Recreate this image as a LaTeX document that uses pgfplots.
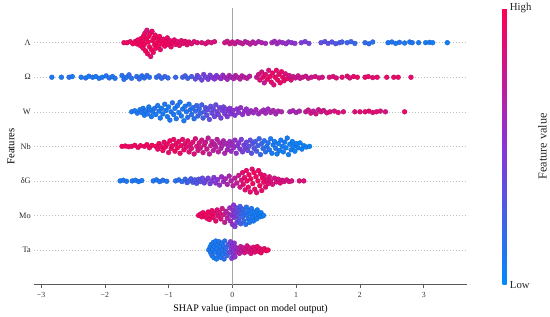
\documentclass[border=0pt]{standalone}
\usepackage{pgfplots}
\pgfplotsset{compat=1.18}
\usepackage{pgfplotstable}
\usepackage{fontspec}
\setmainfont{Liberation Serif}
\pgfplotsset{colormap={shap}{rgb255=(0,138,250) rgb255=(138,52,215) rgb255=(255,0,82)}}

\pgfplotstableread{
x d c
-1.70 0.00 0.90
-1.65 0.00 0.95
-1.60 0.03 0.92
-1.56 -0.03 0.95
-1.52 0.04 0.95
-1.49 -0.04 0.95
-1.48 0.08 0.90
-1.46 0.00 0.95
-1.44 -0.09 0.95
-1.43 0.12 0.95
-1.41 0.03 0.95
-1.40 -0.16 0.92
-1.39 0.20 0.95
-1.38 -0.05 0.95
-1.37 0.28 0.90
-1.36 -0.24 0.95
-1.35 0.10 0.95
-1.34 0.36 0.85
-1.33 -0.32 0.95
-1.32 0.02 0.95
-1.31 0.18 0.95
-1.30 -0.12 0.95
-1.29 0.26 0.95
-1.28 -0.40 0.85
-1.27 -0.20 0.95
-1.26 0.33 0.90
-1.25 0.06 0.95
-1.24 -0.28 0.95
-1.23 0.14 0.95
-1.22 -0.06 0.95
-1.21 0.22 0.95
-1.20 -0.16 0.95
-1.18 0.00 0.95
-1.17 0.10 0.92
-1.16 -0.10 0.95
-1.14 0.18 0.95
-1.13 -0.20 0.90
-1.12 0.04 0.95
-1.10 -0.04 0.95
-1.08 0.10 0.92
-1.06 -0.10 0.95
-1.04 0.02 0.95
-1.02 0.14 0.90
-1.00 -0.06 0.95
-0.98 0.06 0.92
-0.96 -0.12 0.90
-0.94 0.00 0.95
-0.91 0.08 0.90
-0.89 -0.05 0.92
-0.86 0.03 0.90
-0.83 -0.08 0.90
-0.80 0.06 0.88
-0.77 -0.02 0.90
-0.74 0.04 0.88
-0.71 -0.06 0.88
-0.68 0.02 0.90
-0.64 -0.03 0.88
-0.60 0.03 0.85
-0.55 0.00 0.88
-0.48 0.00 0.85
-0.42 -0.03 0.85
-0.38 0.02 0.85
-0.33 0.00 0.82
-0.28 0.03 0.85
-0.12 0.00 0.80
-0.08 0.04 0.78
-0.04 -0.03 0.80
0.00 0.02 0.78
0.04 -0.03 0.75
0.08 0.03 0.75
0.12 0.00 0.72
0.16 -0.03 0.75
0.20 0.03 0.70
0.24 0.00 0.72
0.28 -0.04 0.70
0.32 0.02 0.68
0.36 -0.02 0.70
0.41 0.03 0.65
0.46 0.00 0.65
0.52 -0.02 0.62
0.62 0.00 0.62
0.66 0.04 0.60
0.70 -0.03 0.58
0.74 0.02 0.60
0.79 0.00 0.55
0.84 -0.03 0.55
0.88 0.02 0.55
0.93 0.00 0.50
0.98 -0.02 0.52
1.08 0.00 0.45
1.14 0.03 0.45
1.20 -0.02 0.42
1.39 0.00 0.35
1.45 0.03 0.32
1.50 -0.02 0.35
1.56 0.02 0.30
1.62 -0.03 0.30
1.68 0.00 0.28
1.72 0.02 0.25
1.80 0.00 0.22
1.86 0.03 0.22
1.92 -0.02 0.20
2.08 0.00 0.18
2.14 -0.03 0.15
2.20 0.02 0.15
2.44 0.00 0.12
2.50 0.02 0.12
2.56 -0.02 0.10
2.62 0.01 0.12
2.70 -0.01 0.10
2.78 0.02 0.10
2.82 0.00 0.12
2.92 0.00 0.10
3.03 0.00 0.08
3.09 0.01 0.10
3.14 0.00 0.08
3.37 0.00 0.05
}\tabL

\pgfplotstableread{
x d c
-2.83 0.00 0.10
-2.68 0.00 0.10
-2.56 0.00 0.12
-2.51 0.02 0.10
-2.37 0.00 0.10
-2.30 -0.02 0.12
-2.25 0.03 0.10
-2.19 0.00 0.12
-2.14 0.02 0.10
-2.09 -0.03 0.12
-2.04 0.00 0.10
-1.98 0.04 0.12
-1.93 -0.02 0.15
-1.88 0.02 0.12
-1.84 -0.03 0.12
-1.73 0.05 0.15
-1.70 -0.06 0.15
-1.66 0.00 0.12
-1.62 0.07 0.18
-1.58 -0.03 0.15
-1.50 0.02 0.15
-1.46 -0.05 0.18
-1.42 0.04 0.15
-1.38 -0.02 0.15
-1.34 0.05 0.18
-1.30 0.00 0.15
-1.19 0.00 0.18
-1.15 0.04 0.20
-1.11 -0.03 0.18
-1.06 0.02 0.20
-1.01 -0.02 0.18
-0.89 0.00 0.20
-0.78 0.00 0.22
-0.74 0.04 0.25
-0.70 -0.03 0.22
-0.64 0.02 0.25
-0.58 -0.05 0.35
-0.55 0.05 0.40
-0.52 0.00 0.35
-0.48 -0.08 0.40
-0.45 0.08 0.45
-0.42 0.00 0.40
-0.38 -0.06 0.45
-0.35 0.06 0.42
-0.32 0.00 0.45
-0.28 -0.05 0.50
-0.25 0.05 0.48
-0.22 0.00 0.50
-0.18 -0.04 0.55
-0.15 0.06 0.55
-0.12 0.00 0.60
-0.08 -0.06 0.60
-0.05 0.05 0.65
-0.02 0.00 0.62
0.02 -0.04 0.65
0.05 0.05 0.70
0.08 0.00 0.65
0.12 -0.05 0.70
0.15 0.04 0.72
0.19 0.00 0.70
0.23 -0.03 0.72
0.27 0.03 0.70
0.38 0.00 0.75
0.41 0.08 0.80
0.43 -0.08 0.85
0.46 0.15 0.80
0.48 0.00 0.90
0.50 -0.16 0.75
0.52 0.08 0.90
0.55 -0.06 0.90
0.57 0.20 0.85
0.59 0.02 0.92
0.61 -0.14 0.90
0.63 0.12 0.92
0.65 -0.22 0.85
0.67 0.00 0.92
0.69 0.20 0.90
0.71 -0.08 0.92
0.73 0.08 0.90
0.75 -0.16 0.92
0.77 0.16 0.92
0.79 0.00 0.92
0.81 -0.10 0.90
0.83 0.10 0.85
0.86 -0.04 0.92
0.89 0.05 0.80
0.92 -0.08 0.85
0.95 0.02 0.80
0.99 -0.02 0.78
1.03 0.04 0.80
1.06 -0.03 0.75
1.10 0.00 0.80
1.15 0.03 0.78
1.19 -0.03 0.80
1.24 0.00 0.78
1.30 0.02 0.80
1.36 -0.02 0.82
1.41 0.00 0.80
1.52 0.00 0.85
1.58 0.02 0.85
1.63 -0.02 0.85
1.72 0.00 0.88
1.80 0.03 0.90
1.84 -0.02 0.85
1.90 0.02 0.90
1.96 0.00 0.92
2.08 0.00 0.90
2.13 0.02 0.90
2.20 -0.01 0.88
2.27 0.00 0.90
2.42 0.00 0.92
2.53 0.00 0.90
2.60 0.00 0.92
2.80 0.00 0.90
}\tabO

\pgfplotstableread{
x d c
-1.58 0.00 0.10
-1.53 0.03 0.10
-1.49 -0.04 0.12
-1.45 0.06 0.10
-1.42 -0.02 0.10
-1.40 0.10 0.10
-1.38 -0.10 0.10
-1.36 0.03 0.12
-1.33 -0.06 0.10
-1.31 0.14 0.08
-1.29 0.06 0.10
-1.27 -0.14 0.10
-1.25 0.00 0.10
-1.22 0.10 0.12
-1.20 -0.08 0.08
-1.17 0.18 0.10
-1.15 0.02 0.10
-1.13 -0.18 0.10
-1.11 0.10 0.08
-1.09 -0.06 0.10
-1.06 0.22 0.12
-1.04 0.04 0.10
-1.02 -0.14 0.10
-1.00 0.14 0.08
-0.98 -0.24 0.10
-0.96 0.00 0.10
-0.94 0.26 0.15
-0.92 -0.08 0.10
-0.90 0.10 0.10
-0.88 -0.20 0.12
-0.86 0.18 0.10
-0.84 -0.02 0.10
-0.82 0.28 0.10
-0.80 -0.12 0.10
-0.78 0.08 0.12
-0.76 -0.26 0.10
-0.74 0.16 0.10
-0.72 0.00 0.12
-0.70 -0.16 0.15
-0.68 0.22 0.12
-0.66 0.06 0.12
-0.64 -0.08 0.15
-0.62 0.12 0.15
-0.60 -0.20 0.15
-0.58 0.02 0.18
-0.56 0.18 0.18
-0.54 -0.12 0.20
-0.52 0.08 0.18
-0.50 -0.04 0.22
-0.48 0.20 0.25
-0.46 -0.18 0.25
-0.44 0.00 0.28
-0.42 0.12 0.30
-0.40 -0.10 0.32
-0.38 0.06 0.35
-0.36 -0.22 0.35
-0.34 0.16 0.35
-0.32 -0.04 0.38
-0.30 0.08 0.38
-0.28 -0.14 0.40
-0.26 0.20 0.38
-0.24 0.00 0.40
-0.22 -0.08 0.42
-0.20 0.12 0.40
-0.18 -0.18 0.42
-0.16 0.04 0.45
-0.14 0.14 0.42
-0.12 -0.06 0.45
-0.10 0.08 0.45
-0.08 -0.14 0.48
-0.06 0.02 0.45
-0.04 0.10 0.50
-0.02 -0.06 0.48
0.01 0.04 0.50
0.04 -0.10 0.50
0.07 0.08 0.52
0.10 -0.02 0.50
0.13 0.12 0.55
0.16 -0.08 0.52
0.19 0.02 0.55
0.22 0.08 0.55
0.25 -0.05 0.58
0.29 0.03 0.55
0.33 -0.03 0.58
0.37 0.06 0.60
0.41 -0.06 0.58
0.45 0.00 0.62
0.49 0.05 0.60
0.52 -0.04 0.62
0.56 0.08 0.58
0.60 -0.02 0.62
0.64 0.04 0.65
0.68 -0.06 0.62
0.72 0.02 0.65
0.77 0.00 0.65
0.90 0.00 0.62
0.95 0.03 0.65
1.00 -0.02 0.62
1.05 0.02 0.65
1.15 0.00 0.75
1.19 0.05 0.78
1.23 -0.04 0.80
1.27 0.02 0.75
1.31 -0.06 0.80
1.35 0.06 0.78
1.39 0.00 0.82
1.43 0.04 0.80
1.48 -0.03 0.82
1.53 0.00 0.85
1.60 0.02 0.82
1.66 -0.02 0.85
1.74 0.00 0.85
1.92 0.00 0.85
2.00 0.00 0.88
2.08 0.00 0.88
2.14 0.02 0.90
2.20 -0.02 0.85
2.26 0.00 0.88
2.32 0.02 0.85
2.40 0.00 0.82
2.70 0.00 0.92
}\tabW

\pgfplotstableread{
x d c
-1.73 0.00 0.95
-1.68 0.01 0.92
-1.63 -0.01 0.95
-1.58 0.00 0.92
-1.53 0.03 0.95
-1.48 -0.03 0.92
-1.44 0.02 0.95
-1.38 0.00 0.92
-1.34 0.05 0.95
-1.30 -0.04 0.92
-1.26 0.03 0.95
-1.20 0.00 0.95
-1.17 -0.08 0.92
-1.15 0.08 0.95
-1.12 0.00 0.92
-1.09 -0.12 0.95
-1.07 0.12 0.90
-1.05 -0.02 0.95
-1.02 0.06 0.92
-1.00 -0.18 0.88
-0.98 0.16 0.95
-0.96 -0.06 0.92
-0.94 0.02 0.95
-0.92 0.20 0.92
-0.90 -0.14 0.95
-0.88 0.08 0.90
-0.86 -0.04 0.95
-0.84 0.14 0.92
-0.82 -0.20 0.90
-0.80 0.02 0.92
-0.78 0.20 0.88
-0.76 -0.10 0.92
-0.74 0.08 0.90
-0.72 -0.02 0.88
-0.70 0.16 0.90
-0.68 -0.16 0.88
-0.66 0.04 0.88
-0.64 -0.06 0.85
-0.62 0.12 0.88
-0.60 -0.22 0.85
-0.58 0.22 0.85
-0.56 0.00 0.85
-0.54 -0.12 0.82
-0.52 0.10 0.85
-0.50 -0.04 0.80
-0.48 0.18 0.80
-0.46 -0.18 0.80
-0.44 0.04 0.80
-0.42 0.12 0.78
-0.40 -0.08 0.78
-0.38 0.24 0.75
-0.36 -0.22 0.75
-0.34 0.02 0.75
-0.32 0.14 0.72
-0.30 -0.12 0.72
-0.28 0.06 0.72
-0.26 -0.02 0.70
-0.24 0.20 0.70
-0.22 -0.16 0.70
-0.20 0.10 0.68
-0.18 -0.06 0.68
-0.16 0.02 0.65
-0.14 0.16 0.65
-0.12 -0.20 0.65
-0.10 0.08 0.62
-0.08 -0.10 0.62
-0.06 0.00 0.60
-0.04 0.14 0.60
-0.02 -0.14 0.58
0.00 0.06 0.58
0.02 -0.04 0.55
0.04 0.18 0.55
0.06 -0.20 0.52
0.08 0.02 0.50
0.10 0.10 0.50
0.12 -0.08 0.48
0.14 0.20 0.45
0.16 -0.16 0.45
0.18 0.04 0.42
0.20 -0.04 0.40
0.22 0.12 0.40
0.24 -0.12 0.38
0.26 0.00 0.35
0.28 0.18 0.35
0.30 -0.20 0.32
0.32 0.08 0.30
0.34 -0.06 0.30
0.36 0.14 0.28
0.38 -0.14 0.25
0.40 0.02 0.25
0.42 0.22 0.22
0.44 -0.24 0.20
0.46 0.08 0.20
0.48 -0.06 0.18
0.50 0.16 0.15
0.52 -0.16 0.15
0.54 0.00 0.15
0.56 0.10 0.12
0.58 -0.10 0.12
0.60 0.22 0.10
0.62 -0.20 0.10
0.64 0.04 0.10
0.66 0.14 0.08
0.68 -0.06 0.10
0.70 -0.22 0.08
0.72 0.08 0.08
0.74 -0.12 0.08
0.76 0.18 0.10
0.78 0.00 0.08
0.80 -0.16 0.08
0.82 0.12 0.08
0.84 -0.04 0.06
0.86 0.24 0.08
0.88 -0.24 0.08
0.90 0.06 0.06
0.92 -0.10 0.08
0.94 0.14 0.06
0.96 0.00 0.08
0.98 -0.14 0.06
1.00 0.08 0.06
1.03 -0.04 0.06
1.06 0.10 0.05
1.09 -0.08 0.06
1.12 0.02 0.05
1.16 -0.02 0.05
1.21 0.00 0.05
}\tabNb

\pgfplotstableread{
x d c
-1.76 0.00 0.10
-1.71 0.02 0.10
-1.66 -0.01 0.12
-1.57 0.00 0.10
-1.52 0.02 0.10
-1.47 -0.02 0.12
-1.42 0.01 0.10
-1.24 0.00 0.12
-1.19 0.03 0.12
-1.14 -0.02 0.12
-1.09 0.02 0.15
-1.03 -0.01 0.12
-0.89 0.00 0.15
-0.84 0.03 0.15
-0.79 -0.02 0.18
-0.74 0.05 0.20
-0.71 -0.05 0.22
-0.68 0.00 0.25
-0.65 0.06 0.25
-0.62 -0.04 0.28
-0.59 0.03 0.28
-0.56 -0.07 0.30
-0.53 0.05 0.32
-0.50 -0.02 0.32
-0.47 0.08 0.35
-0.44 -0.06 0.38
-0.41 0.02 0.40
-0.38 0.08 0.42
-0.35 -0.08 0.42
-0.32 0.00 0.45
-0.29 0.10 0.48
-0.26 -0.06 0.50
-0.23 0.04 0.52
-0.20 -0.12 0.55
-0.17 0.12 0.58
-0.14 -0.02 0.60
-0.11 0.06 0.62
-0.08 -0.10 0.65
-0.05 0.14 0.65
-0.02 0.00 0.68
0.01 -0.14 0.70
0.04 0.08 0.72
0.07 -0.06 0.75
0.10 0.16 0.80
0.12 -0.18 0.82
0.14 0.02 0.85
0.16 0.24 0.90
0.17 -0.10 0.88
0.19 0.10 0.90
0.20 -0.26 0.88
0.22 0.30 0.92
0.23 0.00 0.95
0.25 -0.18 0.92
0.26 0.18 0.95
0.28 -0.32 0.90
0.29 0.06 0.95
0.31 0.34 0.88
0.32 -0.08 0.95
0.34 0.24 0.95
0.35 -0.24 0.92
0.37 0.12 0.95
0.38 -0.34 0.88
0.40 0.00 0.95
0.41 0.30 0.92
0.43 -0.14 0.95
0.44 0.20 0.92
0.46 -0.28 0.90
0.47 0.08 0.95
0.49 -0.04 0.92
0.50 0.16 0.90
0.52 -0.18 0.90
0.54 0.04 0.88
0.56 -0.08 0.88
0.58 0.12 0.85
0.60 0.00 0.85
0.63 -0.10 0.85
0.66 0.08 0.82
0.69 -0.03 0.85
0.72 0.05 0.82
0.75 -0.06 0.85
0.78 0.02 0.82
0.81 -0.02 0.85
0.85 0.03 0.82
0.89 -0.02 0.85
0.93 0.00 0.82
1.05 0.00 0.85
1.12 0.00 0.85
}\tabG

\pgfplotstableread{
x d c
-0.53 0.00 0.95
-0.50 0.04 0.92
-0.48 -0.04 0.95
-0.46 0.08 0.92
-0.44 -0.02 0.95
-0.42 0.03 0.95
-0.40 -0.08 0.92
-0.38 0.10 0.95
-0.36 -0.12 0.92
-0.34 0.00 0.95
-0.32 0.14 0.90
-0.30 -0.06 0.92
-0.28 0.06 0.90
-0.26 -0.16 0.90
-0.24 0.16 0.88
-0.22 -0.02 0.88
-0.20 0.08 0.85
-0.18 -0.10 0.85
-0.16 0.20 0.80
-0.14 0.02 0.80
-0.12 -0.20 0.75
-0.10 0.12 0.72
-0.08 -0.08 0.70
-0.06 0.04 0.65
-0.04 0.22 0.60
-0.03 -0.16 0.60
-0.01 0.00 0.55
0.00 -0.26 0.55
0.01 0.14 0.50
0.02 0.30 0.50
0.03 -0.06 0.48
0.04 -0.32 0.45
0.05 0.08 0.45
0.06 0.22 0.40
0.07 -0.20 0.40
0.08 0.00 0.35
0.10 -0.12 0.30
0.11 0.14 0.30
0.12 0.26 0.25
0.13 -0.24 0.25
0.14 0.06 0.22
0.16 -0.04 0.20
0.17 0.18 0.20
0.18 -0.16 0.18
0.20 0.08 0.15
0.21 -0.26 0.15
0.22 0.24 0.15
0.23 0.00 0.12
0.25 -0.10 0.12
0.26 0.14 0.12
0.27 -0.20 0.10
0.29 0.04 0.10
0.30 0.20 0.10
0.31 -0.06 0.10
0.33 -0.16 0.08
0.34 0.10 0.08
0.36 0.00 0.08
0.38 -0.10 0.08
0.39 0.16 0.08
0.41 0.04 0.06
0.43 -0.04 0.08
0.45 0.08 0.06
0.47 -0.02 0.06
0.49 0.00 0.06
}\tabMo

\pgfplotstableread{
x d c
-0.37 0.00 0.10
-0.35 0.08 0.10
-0.34 -0.08 0.10
-0.33 0.16 0.08
-0.32 -0.16 0.10
-0.31 0.02 0.10
-0.30 0.22 0.08
-0.29 -0.22 0.10
-0.28 0.10 0.08
-0.27 -0.06 0.10
-0.26 0.26 0.10
-0.25 -0.26 0.08
-0.24 0.04 0.10
-0.23 0.16 0.10
-0.22 -0.14 0.10
-0.21 0.24 0.10
-0.20 -0.04 0.12
-0.19 0.10 0.10
-0.18 -0.22 0.12
-0.17 0.20 0.12
-0.16 0.00 0.12
-0.15 -0.12 0.12
-0.14 0.12 0.12
-0.13 -0.26 0.15
-0.12 0.26 0.15
-0.11 -0.04 0.15
-0.10 0.06 0.18
-0.08 -0.16 0.20
-0.06 0.16 0.30
-0.04 -0.06 0.40
-0.03 0.24 0.45
-0.02 0.04 0.45
-0.01 -0.24 0.45
0.00 0.12 0.50
0.01 -0.14 0.50
0.02 0.00 0.50
0.03 0.20 0.52
0.04 -0.20 0.52
0.05 0.08 0.55
0.07 -0.06 0.60
0.09 0.04 0.65
0.11 -0.10 0.70
0.13 0.10 0.72
0.15 -0.02 0.75
0.17 0.06 0.78
0.19 -0.08 0.80
0.21 0.02 0.80
0.23 0.12 0.82
0.25 -0.04 0.82
0.27 0.06 0.85
0.29 -0.10 0.85
0.31 0.00 0.85
0.33 0.08 0.88
0.35 -0.06 0.88
0.37 0.02 0.88
0.39 0.10 0.90
0.41 -0.04 0.90
0.43 0.04 0.90
0.45 -0.08 0.92
0.47 0.00 0.92
0.50 0.04 0.92
0.53 -0.02 0.95
0.56 0.00 0.95
}\tabTa

\begin{document}
\begin{tikzpicture}
\begin{axis}[
  name=main,
  scale only axis, width=443pt, height=283pt,
  xmin=-3.107, xmax=3.677, ymin=0, ymax=8,
  axis x line*=bottom, axis y line*=left,
  y axis line style={draw=none},
  x axis line style={black!65, line width=0.9pt},
  xtick={-3,-2,-1,0,1,2,3},
  xticklabels={−3,−2,−1,0,1,2,3},
  xtick align=outside,
  major tick length=3pt,
  x tick style={black!65, line width=0.6pt},
  xticklabel style={font=\fontsize{8}{9}\selectfont, text=black!80, yshift=-1.5pt},
  ytick={1,2,3,4,5,6,7},
  yticklabels={Ta,Mo,δG,Nb,W,Ω,Λ},
  y tick style={draw=none},
  yticklabel style={font=\fontsize{8.5}{10}\selectfont, text=black!85},
  ymajorgrids,
  grid style={draw=black!25, line width=0.4pt, dash pattern=on 0.6pt off 2.4pt},
  xlabel={SHAP value (impact on model output)},
  xlabel style={font=\fontsize{10.25}{12}\selectfont, yshift=0pt},
  ylabel={Features},
  ylabel style={font=\fontsize{11}{13}\selectfont, yshift=-2pt},
  colormap name=shap,
  point meta min=0, point meta max=1,
  colorbar,
  colorbar style={
    scale only axis,
    at={(parent axis.north east)}, anchor=north west,
    xshift=28pt, yshift=0pt,
    width=4pt, height=283pt,
    ytick={0,1}, yticklabels={Low,High},
    major tick length=0pt,
    axis line style={draw=none},
    yticklabel style={font=\fontsize{11}{13}\selectfont, text=black!85},
    ylabel={Feature value},
    ylabel style={font=\fontsize{12.5}{14}\selectfont, text=black!85},
  },
  scatter/use mapped color={draw=mapped color!80!black, fill=mapped color},
]
\draw[black!35, line width=0.7pt] (axis cs:0,0) -- (axis cs:0,8);
\addplot[scatter, only marks, mark=*, mark size=2.5pt, mark options={line width=0.3pt}, point meta=explicit] table[x=x, y expr=7+\thisrow{d}, meta=c] \tabL;
\addplot[scatter, only marks, mark=*, mark size=2.5pt, mark options={line width=0.3pt}, point meta=explicit] table[x=x, y expr=6+\thisrow{d}, meta=c] \tabO;
\addplot[scatter, only marks, mark=*, mark size=2.5pt, mark options={line width=0.3pt}, point meta=explicit] table[x=x, y expr=5+\thisrow{d}, meta=c] \tabW;
\addplot[scatter, only marks, mark=*, mark size=2.5pt, mark options={line width=0.3pt}, point meta=explicit] table[x=x, y expr=4+\thisrow{d}, meta=c] \tabNb;
\addplot[scatter, only marks, mark=*, mark size=2.5pt, mark options={line width=0.3pt}, point meta=explicit] table[x=x, y expr=3+\thisrow{d}, meta=c] \tabG;
\addplot[scatter, only marks, mark=*, mark size=2.5pt, mark options={line width=0.3pt}, point meta=explicit] table[x=x, y expr=2+\thisrow{d}, meta=c] \tabMo;
\addplot[scatter, only marks, mark=*, mark size=2.5pt, mark options={line width=0.3pt}, point meta=explicit] table[x=x, y expr=1+\thisrow{d}, meta=c] \tabTa;
\end{axis}
\path (main.south west) ++(-35pt,-30pt) rectangle ++(550pt,321pt);
\end{tikzpicture}
\end{document}
